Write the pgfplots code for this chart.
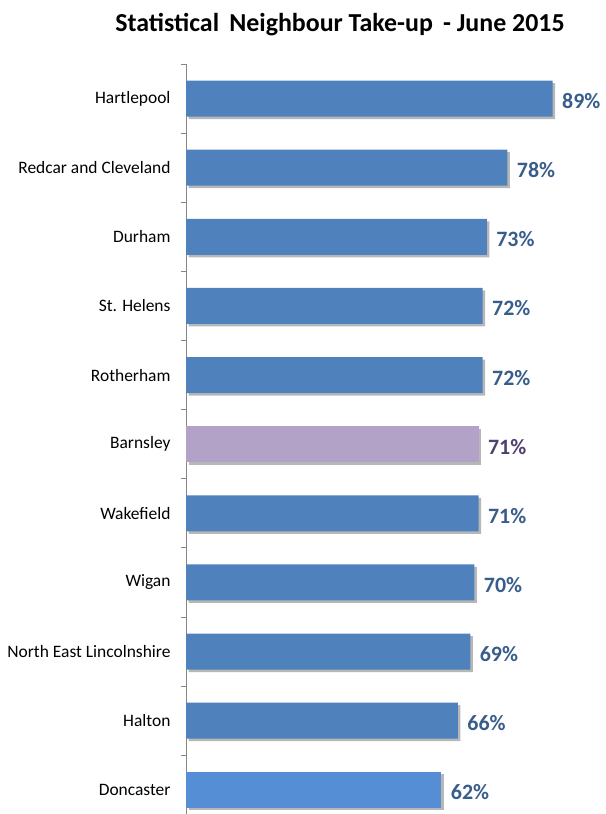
\documentclass[border=0pt]{standalone}
\usepackage{pgfplots}
\pgfplotsset{compat=1.18}
\usepackage{fontspec}
\setmainfont{Carlito}
\usetikzlibrary{shadows}
\definecolor{barblue}{RGB}{79,129,189}
\definecolor{barpurple}{RGB}{178,162,199}
\definecolor{barlight}{RGB}{85,142,213}
\definecolor{lblblue}{RGB}{56,93,138}
\definecolor{lblpurple}{RGB}{80,64,110}
\definecolor{axisgray}{RGB}{134,134,134}
\begin{document}
\begin{tikzpicture}[x=1bp,y=1bp]
\path[use as bounding box] (0,0) rectangle (606,814);
\node[font=\bfseries\fontsize{26}{30}\selectfont] at (340,789) {Statistical\, Neighbour Take-up\, - June 2015};
\begin{axis}[
  at={(186bp,0bp)}, anchor=south west,
  scale only axis, width=412bp, height=750bp,
  xbar, bar width=36bp, bar shift=0pt,
  xmin=0, xmax=100, ymin=-0.35, ymax=10.5,
  axis y line*=left, axis x line=none,
  axis line style={axisgray, line width=0.8pt},
  ytick={0,...,10},
  yticklabels={Doncaster,Halton,North East Lincolnshire,Wigan,Wakefield,Barnsley,Rotherham,St. Helens,Durham,Redcar and Cleveland,Hartlepool},
  major tick length=0pt,
  minor ytick={0.5,1.5,...,10.5},
  minor tick length=5bp,
  tick align=outside,
  minor tick style={axisgray, line width=0.8pt},
  yticklabel style={font=\fontsize{17.5}{20}\selectfont, text=black, xshift=-12bp},
  /pgf/number format/assume math mode=true,
  nodes near coords={\pgfmathprintnumber[assume math mode=true]{\pgfplotspointmeta}\%},
  nodes near coords style={font=\bfseries\fontsize{22}{25}\selectfont, anchor=west, xshift=6bp, yshift=-2.5bp},
  every axis plot/.append style={draw=none, drop shadow={shadow xshift=2.5bp, shadow yshift=-2.5bp, opacity=0.4, fill=black!70}},
  clip=false,
]
\addplot[fill=barblue, nodes near coords style={text=lblblue}] coordinates {
  (89,10) (78,9) (73,8) (72,7) (72,6) (71,4) (70,3) (69,2) (66,1)
};
\addplot[fill=barpurple, nodes near coords style={text=lblpurple}] coordinates {
  (71,5)
};
\addplot[fill=barlight, nodes near coords style={text=lblblue}] coordinates {
  (62,0)
};
\end{axis}
\end{tikzpicture}
\end{document}
